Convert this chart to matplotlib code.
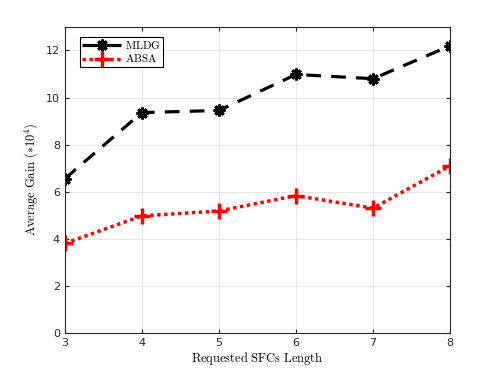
import matplotlib.pyplot as plt
import numpy as np

plt.rcParams['mathtext.fontset'] = 'cm'

# data
lengths = [3, 4, 5, 6, 7, 8]
mldg = [6.55, 9.36, 9.45, 10.98, 10.8, 12.2]
absa = [3.8, 4.97, 5.18, 5.83, 5.3, 7.1]

fig = plt.figure(figsize=(4.98, 3.74), dpi=100)
ax = fig.add_axes([0.13, 0.11, 0.774, 0.818])

ax.plot(lengths, mldg, color='black', linestyle=(0, (4.6, 3.2)), linewidth=2.3,
        marker=(8, 2, 0), markersize=8.5, markeredgewidth=2, label=r'$\mathrm{MLDG}$')
ax.plot(lengths, absa, color='red', linestyle=(0, (1, 1)), linewidth=2.5,
        marker='+', markersize=11, markeredgewidth=2.5, label=r'$\mathrm{ABSA}$')

ax.set_xlim(3, 8)
ax.set_ylim(0, 13)
ax.set_xticks(lengths)
ax.set_yticks([0, 2, 4, 6, 8, 10, 12])
ax.grid(True, color='#e6e6e6', linewidth=0.8)
ax.set_axisbelow(True)
ax.tick_params(direction='in', top=True, right=True, labelsize=8, colors='#262626', length=3)
for s in ax.spines.values():
    s.set_color('#262626')
    s.set_linewidth(0.8)

ax.set_xlabel(r'$\mathrm{Requested\ SFCs\ Length}$', fontsize=9, labelpad=2)
ax.set_ylabel(r'$\mathrm{Average\ Gain}\ (*10^4)$', fontsize=9, labelpad=4)

leg = ax.legend(loc='upper left', fontsize=8, frameon=True, fancybox=False,
                edgecolor='black', framealpha=1, handlelength=3.5,
                borderpad=0.2, labelspacing=0.1, handletextpad=0.4,
                bbox_to_anchor=(0.025, 0.985))
leg.get_frame().set_linewidth(0.8)

fig.savefig('out.png', dpi=100)
